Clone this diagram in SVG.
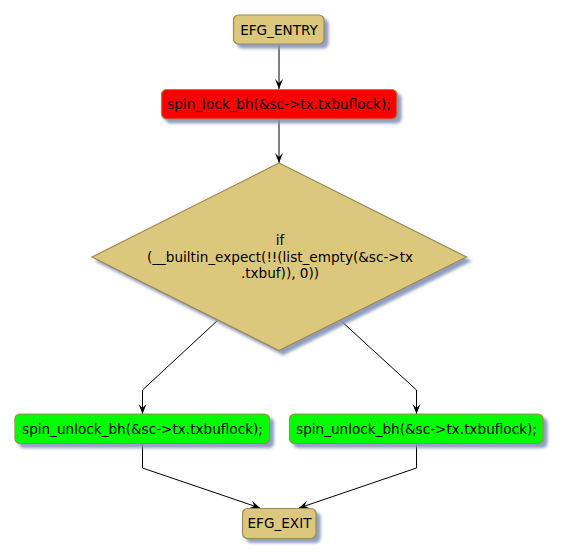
<svg xmlns="http://www.w3.org/2000/svg" width="561" height="557" viewBox="0 0 561 557">
<defs>
<filter id="sh" x="-10%" y="-10%" width="130%" height="140%">
<feGaussianBlur in="SourceAlpha" stdDeviation="1.5" result="b"/>
<feOffset in="b" dx="4" dy="4" result="o"/>
<feFlood flood-color="#8494B8" flood-opacity="0.9"/>
<feComposite in2="o" operator="in" result="s"/>
<feMerge><feMergeNode in="s"/><feMergeNode in="SourceGraphic"/></feMerge>
</filter>
<marker id="ah" markerWidth="10" markerHeight="12" refX="5" refY="10" orient="auto-start-reverse" markerUnits="userSpaceOnUse" viewBox="0 0 10 12">
<polygon points="5,10 1,0 5,4 9,0" fill="#000" transform="rotate(0)"/>
</marker>
</defs>
<style>
.box{stroke:#A08A50;stroke-width:1.2;filter:url(#sh)}
.tan{fill:#DCC87C}
.red{fill:#FF0000}
.grn{fill:#00FF00}
.t{font-family:"DejaVu Sans",sans-serif;font-size:13.6px;fill:#000;text-anchor:middle}
.e{fill:none;stroke:#000;stroke-width:1}
</style>
<rect width="561" height="557" fill="#FFFFFF"/>
<g id="connectors">
<path class="e" d="M279,44 L279,89"/>
<polygon points="279,89 275,79 279,83 283,79" fill="#000"/>
<path class="e" d="M279,119 L279,163"/>
<polygon points="279,163 275,153 279,157 283,153" fill="#000"/>
<path class="e" d="M218,320 L142.5,390 L142.5,414"/>
<polygon points="142.5,414 138.5,404 142.5,408 146.5,404" fill="#000"/>
<path class="e" d="M340,320 L416.5,390 L416.5,414"/>
<polygon points="416.5,414 412.5,404 416.5,408 420.5,404" fill="#000"/>
<path class="e" d="M142.5,443.5 L142.5,468 L260,508"/>
<polygon points="260,508 249.4,508.3 254.3,506.1 252,500.8" fill="#000"/>
<path class="e" d="M416.5,443.5 L416.5,468 L299,508"/>
<polygon points="299,508 306.9,500.8 304.6,506.1 309.5,508.3" fill="#000"/>
</g>
<g id="entry">
<rect class="box tan" x="233.5" y="15" width="90.5" height="29" rx="5"/>
<text class="t" x="279" y="34.5">EFG_ENTRY</text>
</g>
<g id="lock">
<rect class="box red" x="161.5" y="89.5" width="235.5" height="29.5" rx="5"/>
<text class="t" x="279" y="109">spin_lock_bh(&amp;sc-&gt;tx.txbuflock);</text>
</g>
<g id="decision">
<polygon class="box tan" points="279,163 466.5,257 279,350.5 92,257"/>
<text class="t" x="280" y="244.5">if</text>
<text class="t" x="280" y="261.5">(__builtin_expect(!!(list_empty(&amp;sc-&gt;tx</text>
<text class="t" x="280" y="278">.txbuf)), 0))</text>
</g>
<g id="unlock1">
<rect class="box grn" x="15" y="414" width="254.5" height="29.5" rx="5"/>
<text class="t" x="142.5" y="433.5">spin_unlock_bh(&amp;sc-&gt;tx.txbuflock);</text>
</g>
<g id="unlock2">
<rect class="box grn" x="289.5" y="414" width="253.5" height="29.5" rx="5"/>
<text class="t" x="416.5" y="433.5">spin_unlock_bh(&amp;sc-&gt;tx.txbuflock);</text>
</g>
<g id="exit">
<rect class="box tan" x="242.5" y="508.5" width="73.5" height="30" rx="5"/>
<text class="t" x="279.5" y="528">EFG_EXIT</text>
</g>
</svg>
